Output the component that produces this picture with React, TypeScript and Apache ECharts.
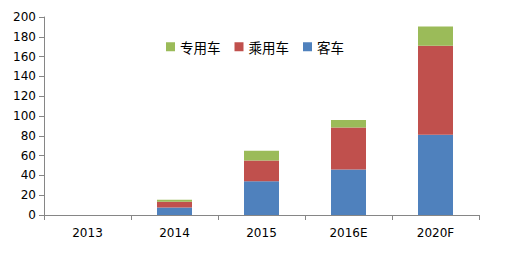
import React, { useEffect, useRef } from "react";
import * as echarts from "echarts";

const categories = ["2013", "2014", "2015", "2016E", "2020F"];
const bus = [0, 7.5, 34, 46, 81];
const passenger = [0, 6, 21, 42.5, 90];
const special = [0, 2, 10, 7.5, 19.5];

export default function App() {
  const ref = useRef<HTMLDivElement>(null);
  useEffect(() => {
    const chart = echarts.init(ref.current!, null, { renderer: "svg" });
    const axisColor = "#868686";
    chart.setOption({
      animation: false,
      backgroundColor: "#fff",
      grid: { left: 44, right: 27, top: 17, bottom: 42, containLabel: false },
      legend: {
        left: 161,
        top: 35,
        itemWidth: 9,
        itemHeight: 9,
        itemGap: 14,
        icon: "rect",
        data: ["专用车", "乘用车", "客车"],
        textStyle: { fontSize: 13.5, color: "#000", fontFamily: "Noto Sans CJK SC" },
      },
      xAxis: {
        type: "category",
        data: categories,
        boundaryGap: true,
        axisLine: { lineStyle: { color: axisColor } },
        axisTick: { show: true, length: 5, alignWithLabel: false, lineStyle: { color: axisColor } },
        axisLabel: { color: "#000", fontSize: 12, fontFamily: "DejaVu Sans", margin: 12 },
      },
      yAxis: {
        type: "value",
        min: 0,
        max: 200,
        interval: 20,
        splitLine: { show: false },
        axisLine: { show: true, lineStyle: { color: axisColor } },
        axisTick: { show: true, length: 5, lineStyle: { color: axisColor } },
        axisLabel: { color: "#000", fontSize: 12, fontFamily: "DejaVu Sans", margin: 8 },
      },
      series: [
        { name: "客车", type: "bar", stack: "a", data: bus, barWidth: 35, itemStyle: { color: "#4F81BD" } },
        { name: "乘用车", type: "bar", stack: "a", data: passenger, barWidth: 35, itemStyle: { color: "#C0504D" } },
        { name: "专用车", type: "bar", stack: "a", data: special, barWidth: 35, itemStyle: { color: "#9BBB59" } },
      ],
    });
    return () => chart.dispose();
  }, []);
  return <div ref={ref} style={{ width: 506, height: 257, margin: -8 }} />;
}
